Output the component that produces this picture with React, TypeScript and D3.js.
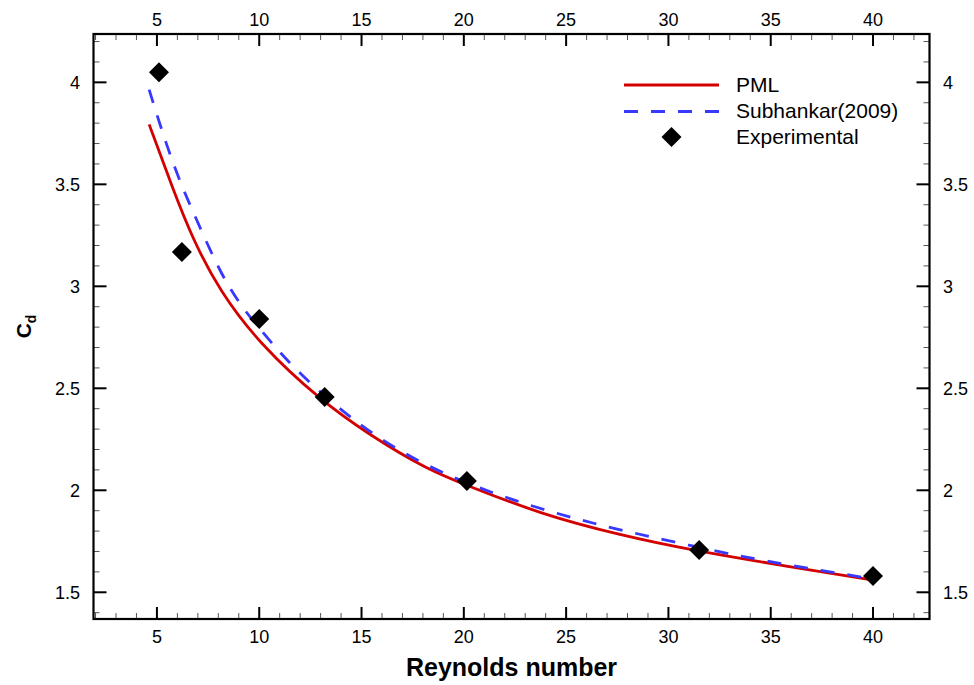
import React from "react";
import * as d3 from "d3";

const pmlX = [4.62, 5.8, 6.77, 8.08, 10.0, 12.97, 15.41, 18.18, 20.3, 23.72, 27.63, 31.21, 35.94, 40];
const pmlY = [3.794, 3.472, 3.227, 2.975, 2.72, 2.443, 2.27, 2.103, 2.018, 1.885, 1.78, 1.705, 1.625, 1.56];

const subX = [4.62, 5.31, 6.12, 7.1, 8.08, 9.06, 10.03, 11.66, 13.78, 15.74, 18.18, 20.79, 23.56, 26.33, 28.93, 32.84, 35.61, 38.38, 40];
const subY = [3.964, 3.74, 3.51, 3.29, 3.07, 2.91, 2.79, 2.6, 2.41, 2.26, 2.118, 2.008, 1.914, 1.837, 1.776, 1.69, 1.638, 1.592, 1.565];

const expX = [5.1, 6.22, 10, 13.2, 20.15, 31.5, 40];
const expY = [4.05, 3.168, 2.84, 2.457, 2.046, 1.707, 1.58];

const xMajor = [5, 10, 15, 20, 25, 30, 35, 40];
const yMajor = [1.5, 2, 2.5, 3, 3.5, 4];

const legendLabels = ["PML", "Subhankar(2009)", "Experimental"];

const W = 974, H = 685;
const L = 93.5, R = 929.5, T = 34, B = 619;
const RED = "#d40000";
const BLUE = "#3838ff";
const FONT = "'Liberation Sans', Arial, Helvetica, sans-serif";

export default function App() {
  const x = d3.scaleLinear().domain([1.9, 42.76]).range([L, R]);
  const y = d3.scaleLinear().domain([1.369, 4.237]).range([B, T]);

  const line = d3
    .line<[number, number]>()
    .x((d) => x(d[0]))
    .y((d) => y(d[1]))
    .curve(d3.curveBasis);

  const pml = line(pmlX.map((v, i) => [v, pmlY[i]] as [number, number])) || "";
  const sub = line(subX.map((v, i) => [v, subY[i]] as [number, number])) || "";

  const xMinor = d3.range(2, 43, 1).filter((v) => v % 5 !== 0);
  const yMinor = d3.range(14, 43, 1).map((v) => v / 10).filter((v) => Math.round(v * 10) % 5 !== 0);

  const diamond = (cx: number, cy: number, r = 10) =>
    `M${cx},${cy - r}L${cx + r},${cy}L${cx},${cy + r}L${cx - r},${cy}Z`;

  const tickFont = { fontFamily: FONT, fontSize: 18, fill: "#000" };

  return (
    <svg width={W} height={H} style={{ position: "absolute", left: 0, top: 0, background: "#fff" }}>
      <defs>
        <clipPath id="plot">
          <rect x={L} y={T} width={R - L} height={B - T} />
        </clipPath>
      </defs>
      {xMinor.map((v) => (
        <g key={"xm" + v} stroke="#555" strokeWidth={1}>
          <line x1={x(v)} x2={x(v)} y1={B} y2={B - 6} />
          <line x1={x(v)} x2={x(v)} y1={T} y2={T + 6} />
        </g>
      ))}
      {yMinor.map((v) => (
        <g key={"ym" + v} stroke="#555" strokeWidth={1}>
          <line x1={L} x2={L + 6} y1={y(v)} y2={y(v)} />
          <line x1={R} x2={R - 6} y1={y(v)} y2={y(v)} />
        </g>
      ))}
      {xMajor.map((v) => (
        <g key={"xM" + v}>
          <g stroke="#000" strokeWidth={2}>
            <line x1={x(v)} x2={x(v)} y1={B} y2={B - 12} />
            <line x1={x(v)} x2={x(v)} y1={T} y2={T + 12} />
          </g>
          <text x={x(v)} y={643} textAnchor="middle" {...tickFont}>{v}</text>
          <text x={x(v)} y={26} textAnchor="middle" {...tickFont}>{v}</text>
        </g>
      ))}
      {yMajor.map((v) => (
        <g key={"yM" + v}>
          <g stroke="#000" strokeWidth={2}>
            <line x1={L} x2={L + 13} y1={y(v)} y2={y(v)} />
            <line x1={R} x2={R - 13} y1={y(v)} y2={y(v)} />
          </g>
          <text x={80} y={y(v)} dy="0.35em" textAnchor="end" {...tickFont}>{v}</text>
          <text x={943} y={y(v)} dy="0.35em" textAnchor="start" {...tickFont}>{v}</text>
        </g>
      ))}
      <rect x={L} y={T} width={R - L} height={B - T} fill="none" stroke="#000" strokeWidth={2.2} />

      <g clipPath="url(#plot)">
        <path d={pml} fill="none" stroke={RED} strokeWidth={2.8} />
        <path d={sub} fill="none" stroke={BLUE} strokeWidth={2.8} strokeDasharray="14 13" />
        {expX.map((v, i) => (
          <path key={"e" + i} d={diamond(x(v), y(expY[i]))} fill="#000" />
        ))}
      </g>

      <line x1={624} x2={719} y1={85} y2={85} stroke={RED} strokeWidth={2.8} />
      <line x1={624} x2={719} y1={111.5} y2={111.5} stroke={BLUE} strokeWidth={2.8} strokeDasharray="14 13" />
      <path d={diamond(671.5, 137)} fill="#000" />
      {legendLabels.map((t, i) => (
        <text key={t} x={736} y={85 + i * 26} dy="0.35em" fontFamily={FONT} fontSize={21} fill="#000">
          {t}
        </text>
      ))}

      <text x={(L + R) / 2} y={676} textAnchor="middle" fontFamily={FONT} fontSize={25} fontWeight="bold" fill="#000">
        Reynolds number
      </text>
      <text transform={`translate(31,${(T + B) / 2}) rotate(-90)`} textAnchor="middle" fontFamily={FONT} fontWeight="bold" fill="#000">
        <tspan fontSize={21}>C</tspan>
        <tspan fontSize={14} dy={5}>d</tspan>
      </text>
    </svg>
  );
}
